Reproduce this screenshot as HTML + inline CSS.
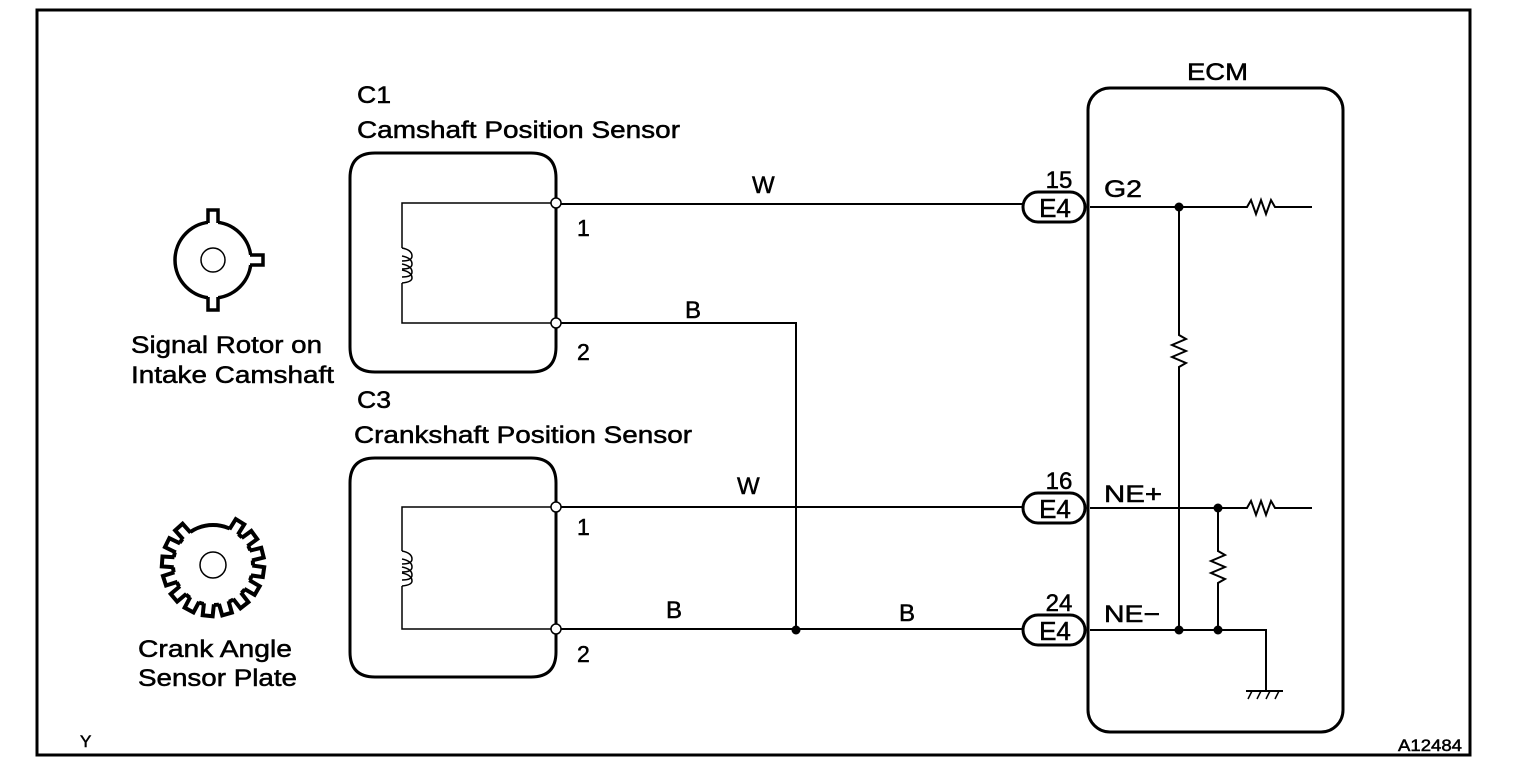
<!DOCTYPE html>
<html><head><meta charset="utf-8"><style>
html,body{margin:0;padding:0;background:#fff;}
svg{display:block}
text{font-family:"Liberation Sans",Arial,sans-serif;fill:#000;stroke:#000;stroke-width:0.5;}
</style></head><body>
<svg width="1520" height="780" viewBox="0 0 1520 780" xmlns="http://www.w3.org/2000/svg">
<defs>
 <g id="t"><rect x="-5" y="-53" width="10" height="17" fill="#fff" stroke="none"/><path d="M-5 -39 V-51 H5 V-39" fill="none" stroke="#000" stroke-width="4"/></g>
</defs>
<rect x="37" y="10" width="1433" height="745" fill="none" stroke="#000" stroke-width="3"/>

<!-- Signal rotor -->
<g transform="translate(213,260)" stroke="#000" fill="none">
 <circle r="38" stroke-width="3.5"/>
 <circle r="12" stroke-width="1.5"/>
 <g stroke-width="3.5">
  <rect x="-5" y="-50" width="10" height="14" fill="#fff" stroke="none"/>
  <path d="M-5 -37 V-50 H5 V-37"/>
  <rect x="-5" y="36" width="10" height="14" fill="#fff" stroke="none"/>
  <path d="M-5 37 V50 H5 V37"/>
  <rect x="36" y="-5" width="14" height="10" fill="#fff" stroke="none"/>
  <path d="M37 -5 H50 V5 H37"/>
 </g>
</g>
<text x="131" y="353" font-size="24" textLength="191" lengthAdjust="spacingAndGlyphs">Signal Rotor on</text>
<text x="131" y="383" font-size="24" textLength="203" lengthAdjust="spacingAndGlyphs">Intake Camshaft</text>

<!-- Gear -->
<g transform="translate(213,565)" stroke="#000" fill="none">
 <circle r="40" stroke-width="4"/>
 <circle r="13" stroke-width="1.5"/>
 <use href="#t" transform="rotate(32)"/><use href="#t" transform="rotate(54)"/>
 <use href="#t" transform="rotate(76)"/><use href="#t" transform="rotate(98)"/>
 <use href="#t" transform="rotate(120)"/><use href="#t" transform="rotate(142)"/>
 <use href="#t" transform="rotate(164)"/><use href="#t" transform="rotate(186)"/>
 <use href="#t" transform="rotate(208)"/><use href="#t" transform="rotate(230)"/>
 <use href="#t" transform="rotate(252)"/><use href="#t" transform="rotate(274)"/>
 <use href="#t" transform="rotate(296)"/><use href="#t" transform="rotate(318)"/>
</g>
<text x="138" y="657" font-size="24" textLength="154" lengthAdjust="spacingAndGlyphs">Crank Angle</text>
<text x="138" y="686" font-size="24" textLength="159" lengthAdjust="spacingAndGlyphs">Sensor Plate</text>

<!-- Sensor C1 -->
<text x="357" y="103" font-size="24" textLength="34" lengthAdjust="spacingAndGlyphs">C1</text>
<text x="357" y="138" font-size="24" textLength="323" lengthAdjust="spacingAndGlyphs">Camshaft Position Sensor</text>
<path d="M556 203 V178 Q556 153 531 153 H375 Q350 153 350 178 V347 Q350 372 375 372 H531 Q556 372 556 347 Z" fill="none" stroke="#000" stroke-width="3"/>
<path d="M556 203 H402 V248 M402 283 V323 H556" fill="none" stroke="#000" stroke-width="1.5"/>
<path d="M402 248 Q412 250 412 256 Q412 261 402 261 M402 256 Q412 258 412 264 Q412 269 402 269 M402 264 Q412 266 412 272 Q412 277 402 277 M402 270 Q412 272 412 278 Q412 282 402 283" fill="none" stroke="#000" stroke-width="1.5"/>
<circle cx="556" cy="203" r="5" fill="#fff" stroke="#000" stroke-width="1.5"/>
<circle cx="556" cy="323" r="5" fill="#fff" stroke="#000" stroke-width="1.5"/>
<text x="577" y="236" font-size="23">1</text>
<text x="577" y="360" font-size="23">2</text>

<!-- Sensor C3 -->
<text x="357" y="408" font-size="24" textLength="34" lengthAdjust="spacingAndGlyphs">C3</text>
<text x="354" y="443" font-size="24" textLength="338" lengthAdjust="spacingAndGlyphs">Crankshaft Position Sensor</text>
<path d="M556 507 V483 Q556 458 531 458 H375 Q350 458 350 483 V652 Q350 677 375 677 H531 Q556 677 556 652 Z" fill="none" stroke="#000" stroke-width="3"/>
<path d="M556 507 H402 V551 M402 586 V629 H556" fill="none" stroke="#000" stroke-width="1.5"/>
<path d="M402 551 Q412 553 412 559 Q412 564 402 564 M402 559 Q412 561 412 567 Q412 572 402 572 M402 567 Q412 569 412 575 Q412 580 402 580 M402 573 Q412 575 412 581 Q412 585 402 586" fill="none" stroke="#000" stroke-width="1.5"/>
<circle cx="556" cy="507" r="5" fill="#fff" stroke="#000" stroke-width="1.5"/>
<circle cx="556" cy="629" r="5" fill="#fff" stroke="#000" stroke-width="1.5"/>
<text x="577" y="535" font-size="23">1</text>
<text x="577" y="662" font-size="23">2</text>

<!-- Wires -->
<g stroke="#000" stroke-width="2" fill="none">
 <path d="M561 204 H1022"/>
 <path d="M561 323 H796 V630"/>
 <path d="M561 507 H1022"/>
 <path d="M561 629 H1022"/>
</g>
<circle cx="796" cy="630" r="4.5" fill="#000"/>
<g font-size="24">
<text x="752" y="193">W</text>
<text x="685" y="318">B</text>
<text x="737" y="494">W</text>
<text x="666" y="618">B</text>
<text x="899" y="621">B</text>
</g>

<!-- ECM -->
<text x="1187" y="80" font-size="24" textLength="61" lengthAdjust="spacingAndGlyphs">ECM</text>
<rect x="1088" y="88" width="255" height="644" rx="22" fill="none" stroke="#000" stroke-width="3"/>

<!-- connectors -->
<g font-size="26">
 <rect x="1023" y="192" width="62" height="30" rx="15" fill="#fff" stroke="#000" stroke-width="3"/>
 <text x="1055" y="217" text-anchor="middle">E4</text>
 <text x="1059" y="188" text-anchor="middle" font-size="24">15</text>
 <rect x="1023" y="493" width="62" height="30" rx="15" fill="#fff" stroke="#000" stroke-width="3"/>
 <text x="1055" y="518" text-anchor="middle">E4</text>
 <text x="1059" y="489" text-anchor="middle" font-size="24">16</text>
 <rect x="1023" y="615" width="62" height="30" rx="15" fill="#fff" stroke="#000" stroke-width="3"/>
 <text x="1055" y="640" text-anchor="middle">E4</text>
 <text x="1059" y="611" text-anchor="middle" font-size="24">24</text>
</g>
<text x="1104" y="197" font-size="24" textLength="38" lengthAdjust="spacingAndGlyphs">G2</text>
<text x="1104" y="502" font-size="24" textLength="58" lengthAdjust="spacingAndGlyphs">NE+</text>
<text x="1104" y="622" font-size="24" textLength="56" lengthAdjust="spacingAndGlyphs">NE−</text>

<g stroke="#000" stroke-width="2" fill="none">
 <path d="M1090 207 H1247 l4 -7 l5 14 l5 -14 l5 14 l5 -14 l4 7 H1312"/>
 <path d="M1090 508 H1247 l4 -7 l5 14 l5 -14 l5 14 l5 -14 l4 7 H1312"/>
 <path d="M1090 630 H1266 V690"/>
 <path d="M1179 207 V335 l7 4 l-14 6 l14 6 l-14 6 l14 6 l-7 4 V630"/>
 <path d="M1218 508 V551 l7 4 l-14 6 l14 6 l-14 6 l14 6 l-7 4 V630"/>
 <path d="M1246 691 H1283"/>
 <path d="M1252 691 l-4 8 M1261 691 l-4 8 M1270 691 l-4 8 M1279 691 l-4 8" stroke-width="1.5"/>
</g>
<circle cx="1179" cy="207" r="4.5" fill="#000"/>
<circle cx="1179" cy="630" r="4.5" fill="#000"/>
<circle cx="1218" cy="508" r="4.5" fill="#000"/>
<circle cx="1218" cy="630" r="4.5" fill="#000"/>

<text x="80" y="747" font-size="17">Y</text>
<text x="1398" y="751" font-size="17" textLength="64" lengthAdjust="spacingAndGlyphs">A12484</text>
</svg>
</body></html>
